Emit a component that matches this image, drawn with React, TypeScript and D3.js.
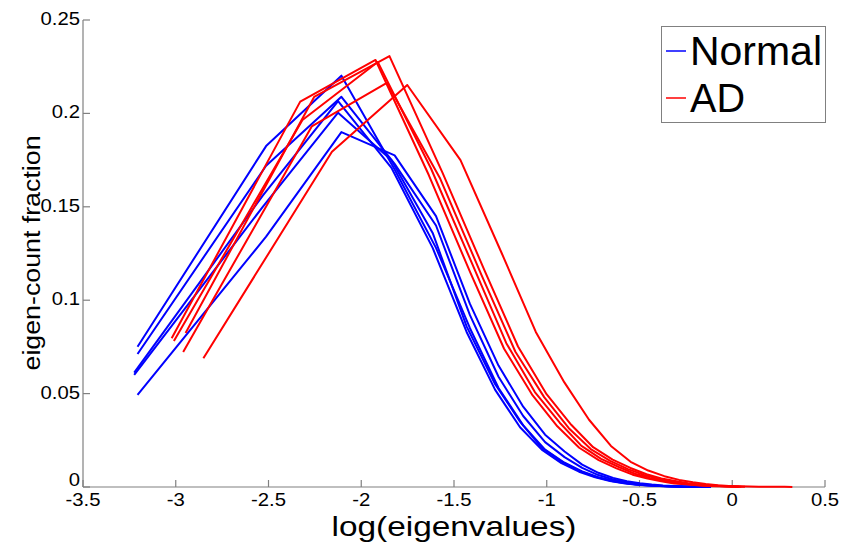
import React from "react";
import * as d3 from "d3";

// ---- Data: log(eigenvalue) bin centres and eigen-count fractions ----
const xTickValues = [-3.5, -3, -2.5, -2, -1.5, -1, -0.5, 0, 0.5];
const xTickLabels = ["-3.5", "-3", "-2.5", "-2", "-1.5", "-1", "-0.5", "0", "0.5"];
const yTickValues = [0, 0.05, 0.1, 0.15, 0.2, 0.25];
const yTickLabels = ["0", "0.05", "0.1", "0.15", "0.2", "0.25"];

// Normal subjects
const normalXA = [-3.206, -2.513, -2.107, -1.82, -1.597, -1.414, -1.26, -1.127, -1.009, -0.904, -0.809, -0.722, -0.642, -0.568, -0.498, -0.434, -0.373, -0.316, -0.262, -0.211, -0.162, -0.115];
const normalXB = [-3.224, -2.531, -2.125, -1.838, -1.615, -1.432, -1.278, -1.144, -1.027, -0.921, -0.826, -0.739, -0.659, -0.585, -0.516, -0.451, -0.391, -0.333, -0.28, -0.228, -0.179, -0.133];
const normal1 = [0.0751, 0.1825, 0.2202, 0.170, 0.128, 0.085, 0.053, 0.033, 0.02, 0.013, 0.0083, 0.0052, 0.0033, 0.002, 0.0012, 0.0008, 0.0005, 0.0003, 0.0002, 0.0001, 0.0001, 0];
const normal2 = [0.0712, 0.172, 0.2089, 0.173, 0.14, 0.092, 0.059, 0.038, 0.024, 0.016, 0.0102, 0.0064, 0.004, 0.0025, 0.0016, 0.001, 0.0006, 0.0004, 0.0003, 0.0002, 0.0001, 0];
const normal3 = [0.0612, 0.156, 0.2066, 0.171, 0.128, 0.083, 0.052, 0.032, 0.02, 0.0128, 0.0082, 0.0052, 0.0032, 0.002, 0.0012, 0.0008, 0.0005, 0.0003, 0.0002, 0.0001, 0.0001, 0];
const normal4 = [0.06, 0.15, 0.2004, 0.175, 0.136, 0.086, 0.055, 0.035, 0.021, 0.0137, 0.0088, 0.0055, 0.0034, 0.0021, 0.0013, 0.0008, 0.0005, 0.0003, 0.0002, 0.0001, 0, 0];
const normal5 = [0.0493, 0.134, 0.19, 0.1775, 0.145, 0.098, 0.065, 0.043, 0.028, 0.019, 0.012, 0.0076, 0.0049, 0.0031, 0.002, 0.0013, 0.0008, 0.0005, 0.0003, 0.0002, 0.0001, 0];

// AD subjects
const adX1 = [-3.022, -2.329, -1.923, -1.636, -1.413, -1.23, -1.076, -0.943, -0.825, -0.72, -0.624, -0.537, -0.457, -0.383, -0.314, -0.25, -0.189, -0.132, -0.078, -0.026, 0.023, 0.069];
const adY1 = [0.0796, 0.2063, 0.2286, 0.167, 0.115, 0.074, 0.049, 0.0325, 0.021, 0.0144, 0.01, 0.0066, 0.0045, 0.0031, 0.0019, 0.0015, 0.0009, 0.0006, 0.0004, 0.0003, 0.0002, 0.0001];
const adX2 = [-3.01, -2.317, -1.911, -1.624, -1.4, -1.218, -1.064, -0.93, -0.813, -0.707, -0.612, -0.525, -0.445, -0.371, -0.302, -0.237, -0.177, -0.12, -0.066, -0.014, 0.035];
const adY2 = [0.0782, 0.1965, 0.2275, 0.1705, 0.119, 0.077, 0.0508, 0.0344, 0.022, 0.0151, 0.0107, 0.0071, 0.0048, 0.0033, 0.0022, 0.0015, 0.001, 0.0007, 0.0005, 0.0003, 0.0002];
const adX3 = [-2.947, -2.254, -1.848, -1.561, -1.338, -1.155, -1.001, -0.868, -0.75, -0.645, -0.549, -0.462, -0.382, -0.308, -0.239, -0.174, -0.114, -0.057, -0.003, 0.049];
const adY3 = [0.0824, 0.2088, 0.2307, 0.168, 0.1165, 0.0752, 0.0497, 0.0333, 0.0213, 0.0147, 0.0102, 0.0068, 0.0046, 0.0032, 0.002, 0.0014, 0.0009, 0.0006, 0.0004, 0.0002];
const adX4 = [-2.96, -2.267, -1.862, -1.574, -1.351, -1.169, -1.014, -0.881, -0.763, -0.658, -0.562, -0.475, -0.395, -0.321, -0.252, -0.188, -0.127, -0.07, -0.016, 0.035];
const adY4 = [0.0723, 0.193, 0.2164, 0.165, 0.1133, 0.0724, 0.0481, 0.0315, 0.0203, 0.014, 0.0096, 0.0064, 0.0044, 0.003, 0.0019, 0.0012, 0.0008, 0.0005, 0.0003, 0.0002];
const adX5 = [-2.851, -2.158, -1.752, -1.465, -1.242, -1.059, -0.905, -0.772, -0.654, -0.548, -0.453, -0.366, -0.286, -0.212, -0.143, -0.078, -0.018, 0.039, 0.093, 0.144, 0.193, 0.239, 0.282, 0.324];
const adY5 = [0.0689, 0.1795, 0.2152, 0.175, 0.125, 0.083, 0.056, 0.036, 0.022, 0.0135, 0.0088, 0.0058, 0.0038, 0.0025, 0.0016, 0.001, 0.0006, 0.0004, 0.0003, 0.0002, 0.0001, 0.0001, 0.0001, 0];

const legendLabels = ["Normal", "AD"];
const seriesColors = ["#0000ff", "#ff0000"];

type Curve = { xs: number[]; ys: number[]; color: string };

const normalCurves: Curve[] = [
  { xs: normalXA, ys: normal1, color: seriesColors[0] },
  { xs: normalXA, ys: normal2, color: seriesColors[0] },
  { xs: normalXB, ys: normal3, color: seriesColors[0] },
  { xs: normalXB, ys: normal4, color: seriesColors[0] },
  { xs: normalXA, ys: normal5, color: seriesColors[0] },
];
const adCurves: Curve[] = [
  { xs: adX1, ys: adY1, color: seriesColors[1] },
  { xs: adX2, ys: adY2, color: seriesColors[1] },
  { xs: adX3, ys: adY3, color: seriesColors[1] },
  { xs: adX4, ys: adY4, color: seriesColors[1] },
  { xs: adX5, ys: adY5, color: seriesColors[1] },
];

const W = 844;
const H = 549;
const FONT = "'Liberation Sans', Arial, Helvetica, sans-serif";

export default function App() {
  const x = d3.scaleLinear().domain([-3.5, 0.5]).range([83, 825]);
  const y = d3.scaleLinear().domain([0, 0.25]).range([487, 20]);
  const line = d3
    .line<[number, number]>()
    .x((d) => x(d[0]))
    .y((d) => y(d[1]));

  const curves = [...normalCurves, ...adCurves];
  const axisColor = "#808080";
  const tickLen = 7;

  return (
    <svg
      width={W}
      height={H}
      style={{ position: "absolute", left: 0, top: 0, background: "#fff" }}
      fontFamily={FONT}
    >
      <rect x={0} y={0} width={W} height={H} fill="#fff" />
      {/* axes */}
      <line x1={x(-3.5)} x2={x(0.5)} y1={y(0)} y2={y(0)} stroke={axisColor} strokeWidth={1.2} />
      <line x1={x(-3.5)} x2={x(-3.5)} y1={y(0)} y2={y(0.25)} stroke={axisColor} strokeWidth={1.2} />
      {xTickValues.map((v, i) => (
        <g key={"xt" + i}>
          <line x1={x(v)} x2={x(v)} y1={y(0)} y2={y(0) - tickLen} stroke={axisColor} strokeWidth={1.2} />
          <text
            transform={`translate(${x(v)},${y(0) + 19}) scale(1.16,1)`}
            textAnchor="middle"
            fontSize={17.5}
            fill="#000"
          >
            {xTickLabels[i]}
          </text>
        </g>
      ))}
      {yTickValues.map((v, i) => (
        <g key={"yt" + i}>
          <line x1={x(-3.5)} x2={x(-3.5) + tickLen} y1={y(v)} y2={y(v)} stroke={axisColor} strokeWidth={1.2} />
          <text
            transform={`translate(${x(-3.5) - 3},${y(v) + (v === 0 ? -0.8 : 5)}) scale(1.16,1)`}
            textAnchor="end"
            fontSize={17.5}
            fill="#000"
          >
            {yTickLabels[i]}
          </text>
        </g>
      ))}
      {/* axis titles */}
      <text x={454} y={535.5} textAnchor="middle" fontSize={28} textLength={245} lengthAdjust="spacingAndGlyphs" fill="#000">
        log(eigenvalues)
      </text>
      <text
        transform={`translate(40,253) rotate(-90)`}
        textAnchor="middle"
        fontSize={23}
        textLength={235}
        lengthAdjust="spacingAndGlyphs"
        fill="#000"
      >
        eigen-count fraction
      </text>
      {/* curves */}
      {curves.map((c, i) => (
        <path
          key={"c" + i}
          d={line(c.xs.map((v, j) => [v, c.ys[j]] as [number, number])) || ""}
          fill="none"
          stroke={c.color}
          strokeWidth={2}
          strokeLinejoin="round"
        />
      ))}
      {/* legend */}
      <rect x={661.5} y={26.5} width={164} height={96} fill="#fff" stroke={axisColor} strokeWidth={1} />
      {legendLabels.map((lab, i) => (
        <g key={"lg" + i}>
          <line x1={666} x2={686} y1={51 + i * 47} y2={51 + i * 47} stroke={seriesColors[i]} strokeWidth={1.5} />
          <text x={690} y={65 + i * 47} fontSize={40} textLength={i === 0 ? 132 : 55} lengthAdjust="spacingAndGlyphs" fill="#000">
            {lab}
          </text>
        </g>
      ))}
    </svg>
  );
}
